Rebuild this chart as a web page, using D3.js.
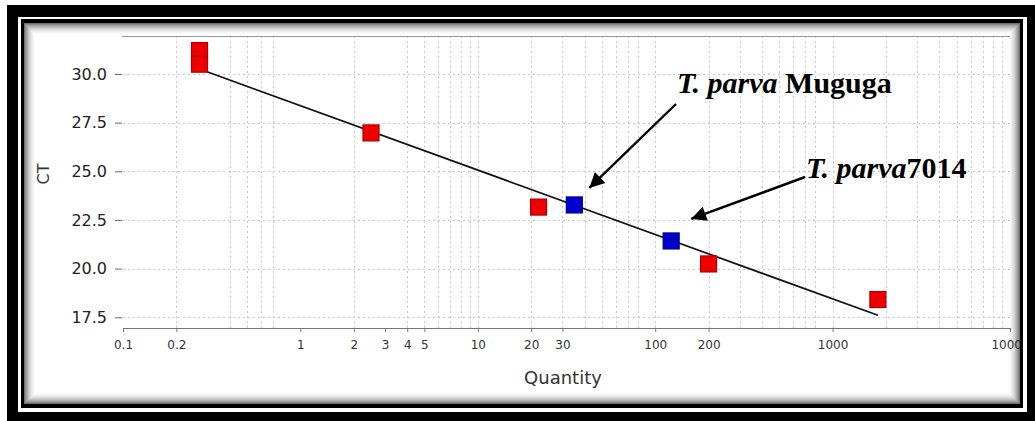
<!DOCTYPE html>
<html lang="en">
<head>
<meta charset="UTF-8">
<title>Standard curve CT vs Quantity</title>
<script src="https://d3js.org/d3.v7.min.js"></script>
<style>
  body { margin: 0; background: #fff; }
  svg { display: block; }
</style>
</head>
<body>
<svg width="1035" height="421"></svg>
<script>
// standards (red) and samples (blue)
const standardQty = [0.27, 0.27, 2.5, 22, 200, 1800];
const standardCt = [31.2, 30.5, 26.97, 23.16, 20.24, 18.41];
const sampleNames = ["Muguga", "7014"];
const sampleQty = [35, 123];
const sampleCt = [23.27, 21.42];
// regression line end points
const fitQty = [0.27, 1800];
const fitCt = [30.25, 17.6];

const xTicks = [0.1, 0.2, 1, 2, 3, 4, 5, 10, 20, 30, 100, 200, 1000, 10000];
const xTickLabels = ["0.1", "0.2", "1", "2", "3", "4", "5", "10", "20", "30", "100", "200", "1000", "10000"];
const yTicks = [17.5, 20, 22.5, 25, 27.5, 30];
const gridQty = [0.2, 0.4, 0.5, 0.6, 0.7, 2, 4, 5, 6, 7, 8, 9, 10, 20, 30, 40, 50, 60, 70, 80, 100,
  200, 300, 400, 500, 600, 700, 800, 1000, 2000, 3000, 4000, 5000, 6000, 7000, 8000, 9000];

const svg = d3.select('svg');
const W = 1035, H = 421;
const sans = 'DejaVu Sans, Verdana, sans-serif';

const x = d3.scaleLog().domain([0.1, 10000]).range([123, 1010]);
const y = d3.scaleLinear().domain([17, 32]).range([327, 35]);
const plotTop = 36, plotBottom = 328;

// grid
const grid = svg.append('g')
  .attr('stroke', '#c8c8c8')
  .attr('stroke-width', 1)
  .attr('stroke-dasharray', '2,3');

grid.selectAll('line.v')
  .data(gridQty)
  .enter()
  .append('line')
  .attr('class', 'v')
  .attr('x1', d => Math.round(x(d)) + 0.5)
  .attr('x2', d => Math.round(x(d)) + 0.5)
  .attr('y1', plotTop)
  .attr('y2', plotBottom);

grid.selectAll('line.h')
  .data(yTicks)
  .enter()
  .append('line')
  .attr('class', 'h')
  .attr('x1', x.range()[0])
  .attr('x2', x.range()[1])
  .attr('y1', d => Math.round(y(d)) + 0.5)
  .attr('y2', d => Math.round(y(d)) + 0.5);

// top border line
svg.append('line')
  .attr('x1', 122).attr('x2', x.range()[1])
  .attr('y1', plotTop + 0.5).attr('y2', plotTop + 0.5)
  .attr('stroke', '#999');

// x axis
const xAxis = svg.append('g')
  .attr('transform', `translate(0, ${plotBottom})`)
  .call(d3.axisBottom(x)
    .tickValues(xTicks)
    .tickFormat((d, i) => xTickLabels[i])
    .tickSize(4)
    .tickSizeOuter(4)
    .tickPadding(8));
xAxis.select('.domain').attr('stroke', '#777');
xAxis.selectAll('.tick line').attr('stroke', '#777');
xAxis.selectAll('text')
  .attr('fill', '#333')
  .attr('font-family', sans)
  .attr('font-size', 12);

// y axis
const yAxis = svg.append('g')
  .attr('transform', 'translate(122, 0)')
  .call(d3.axisLeft(y)
    .tickValues(yTicks)
    .tickFormat(d3.format('.1f'))
    .tickSize(7)
    .tickPadding(8));
yAxis.select('.domain').remove();
yAxis.selectAll('.tick line').attr('stroke', '#666');
yAxis.selectAll('text')
  .attr('fill', '#222')
  .attr('font-family', sans)
  .attr('font-size', 16);

// axis titles
svg.append('text')
  .attr('x', 563).attr('y', 384)
  .attr('text-anchor', 'middle')
  .attr('font-family', sans)
  .attr('font-size', 18)
  .attr('fill', '#333')
  .text('Quantity');

svg.append('text')
  .attr('transform', 'translate(49, 174) rotate(-90)')
  .attr('text-anchor', 'middle')
  .attr('font-family', sans)
  .attr('font-size', 16)
  .attr('fill', '#333')
  .text('CT');

// fit line
const fitData = fitQty.map((q, i) => ({ q: q, ct: fitCt[i] }));
const line = d3.line()
  .x(d => x(d.q))
  .y(d => y(d.ct));

svg.append('path')
  .datum(fitData)
  .attr('fill', 'none')
  .attr('stroke', '#111')
  .attr('stroke-width', 1.7)
  .attr('d', line);

// squares
const sz = 16;
const standards = standardQty.map((q, i) => ({ q: q, ct: standardCt[i] }));
const samples = sampleQty.map((q, i) => ({ q: q, ct: sampleCt[i], name: sampleNames[i] }));

svg.selectAll('rect.std')
  .data(standards)
  .enter()
  .append('rect')
  .attr('class', 'std')
  .attr('x', d => x(d.q) - sz / 2)
  .attr('y', d => y(d.ct) - sz / 2)
  .attr('width', sz)
  .attr('height', sz)
  .attr('fill', '#ee0000')
  .attr('stroke', '#b00000')
  .attr('stroke-width', 1.2);

svg.selectAll('rect.smp')
  .data(samples)
  .enter()
  .append('rect')
  .attr('class', 'smp')
  .attr('x', d => x(d.q) - sz / 2)
  .attr('y', d => y(d.ct) - sz / 2)
  .attr('width', sz)
  .attr('height', sz)
  .attr('fill', '#0000cc')
  .attr('stroke', '#000088')
  .attr('stroke-width', 1.2);

// annotations
svg.append('defs').append('marker')
  .attr('id', 'head')
  .attr('markerUnits', 'userSpaceOnUse')
  .attr('viewBox', '0 0 10 10')
  .attr('refX', 10).attr('refY', 5)
  .attr('markerWidth', 20).attr('markerHeight', 15)
  .attr('orient', 'auto')
  .append('path')
  .attr('d', 'M0,0 L10,5 L0,10 Z')
  .attr('fill', '#000');

const labelPos = [{ tx: 677, ty: 93, ax: 676, ay: 104, dx: 15, dy: -17 },
                  { tx: 806, ty: 178, ax: 805, ay: 177, dx: 20, dy: -22 }];

samples.forEach((d, i) => {
  const p = labelPos[i];
  svg.append('line')
    .attr('x1', p.ax).attr('y1', p.ay)
    .attr('x2', x(d.q) + p.dx).attr('y2', y(d.ct) + p.dy)
    .attr('stroke', '#000')
    .attr('stroke-width', 2.4)
    .attr('marker-end', 'url(#head)');

  const t = svg.append('text')
    .attr('x', p.tx).attr('y', p.ty)
    .attr('font-family', 'Liberation Serif, Times New Roman, serif')
    .attr('font-weight', 'bold')
    .attr('font-size', 30)
    .attr('fill', '#000');
  t.append('tspan').attr('font-style', 'italic').text('T. parva');
  t.append('tspan').text(i === 0 ? ' ' + d.name : d.name);
});

// frame
const fr = svg.append('g');
fr.append('path')
  .attr('fill', '#fff')
  .attr('fill-rule', 'evenodd')
  .attr('d', `M0,0H${W}V${H}H0Z M24,23H1020V404H24Z`);
fr.append('path')
  .attr('fill', '#000')
  .attr('fill-rule', 'evenodd')
  .attr('d', `M7,5H${W + 10}V${H + 10}H7Z M18,17H1027V412H18Z`);
fr.append('path')
  .attr('fill', '#000')
  .attr('fill-rule', 'evenodd')
  .attr('d', 'M21,19H1023V408H21Z M24,23H1020V404H24Z');

// inner shadow
d3.range(12).forEach(i => {
  fr.append('rect')
    .attr('x', 24 + i + 0.5).attr('y', 23 + i + 0.5)
    .attr('width', 996 - 2 * i - 1).attr('height', 381 - 2 * i - 1)
    .attr('fill', 'none')
    .attr('stroke', '#000')
    .attr('stroke-opacity', 0.55 * Math.pow(1 - i / 12, 2));
});
</script>
</body>
</html>
